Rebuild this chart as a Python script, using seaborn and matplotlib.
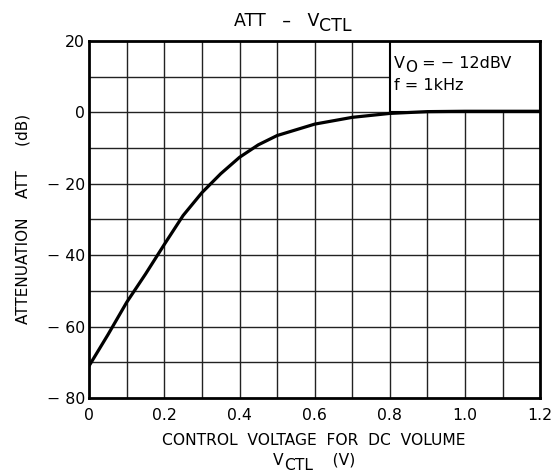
import matplotlib

matplotlib.use("Agg")
import matplotlib.pyplot as plt
import pandas as pd
import seaborn as sns
from matplotlib.patches import Rectangle
from matplotlib.transforms import offset_copy


# values
VCTL = [0.0, 0.05, 0.1, 0.15, 0.2, 0.25, 0.3, 0.35, 0.4, 0.45, 0.5, 0.6, 0.7, 0.8, 0.9, 1.0, 1.1, 1.2]
ATT = [-71.0, -62.3, -53.2, -45.3, -37.0, -28.9, -22.5, -17.2, -12.6, -9.1, -6.5, -3.3, -1.4, -0.3, 0.2, 0.3, 0.3, 0.3]

X_TICKS = [0.0, 0.2, 0.4, 0.6, 0.8, 1.0, 1.2]
X_TICK_LABELS = ["0", "0.2", "0.4", "0.6", "0.8", "1.0", "1.2"]
Y_TICKS = [20, 0, -20, -40, -60, -80]
Y_TICK_LABELS = ["20", "0", "\u2212 20", "\u2212 40", "\u2212 60", "\u2212 80"]

FONT = "DejaVu Sans"


def sub_text(fig, x, y, parts, size, transform, ha="left"):
    """Draw [(text, dy_points, scale), ...] one after another on a line."""
    renderer = fig.canvas.get_renderer()
    pieces = [fig.text(x, y, text, fontsize=size * scale, va="baseline", ha="left",
                       transform=transform)
              for text, dy, scale in parts]
    widths = [p.get_window_extent(renderer).width for p in pieces]
    shift = -sum(widths) / 2 if ha == "center" else 0.0
    for p, w, (text, dy, scale) in zip(pieces, widths, parts):
        p.set_transform(offset_copy(transform, fig=fig, x=shift * 72 / fig.dpi,
                                    y=dy, units="points"))
        shift += w
    return pieces


def main() -> None:
    sns.set_theme(style="white")
    plt.rcParams["font.family"] = [FONT]
    plt.rcParams["text.color"] = "black"
    plt.rcParams["axes.labelcolor"] = "black"

    df = pd.DataFrame({"vctl": VCTL, "att": ATT})

    fig = plt.figure(figsize=(5.57, 4.76), dpi=100)
    ax = fig.add_axes([0.160, 0.164, 0.810, 0.750])

    # grid: every 0.1 V and every 10 dB
    for i in range(1, 12):
        ax.axvline(i * 0.1, color="#222222", lw=1.0, zorder=1)
    for v in range(-70, 20, 10):
        ax.axhline(v, color="#222222", lw=1.0, zorder=1)

    # condition box in the top-right corner hides the grid
    ax.add_patch(Rectangle((0.8, 0), 0.4, 20, facecolor="white",
                           edgecolor="black", lw=1.5, zorder=2))

    sns.lineplot(data=df, x="vctl", y="att", color="black", lw=2.3, ax=ax, zorder=4)

    ax.set_xlim(0, 1.2)
    ax.set_ylim(-80, 20)
    ax.set_xticks(X_TICKS)
    ax.set_xticklabels(X_TICK_LABELS)
    ax.set_yticks(Y_TICKS)
    ax.set_yticklabels(Y_TICK_LABELS)
    ax.tick_params(length=0, labelsize=11.3, colors="black")
    ax.tick_params(axis="x", pad=7)
    ax.tick_params(axis="y", pad=3)

    for spine in ax.spines.values():
        spine.set_color("black")
        spine.set_linewidth(2.0)
        spine.set_zorder(5)

    ax.set_xlabel("")
    ax.set_ylabel("ATTENUATION    ATT     (dB)", fontsize=11, labelpad=12)

    sub_text(fig, 0.81, 12.4, [("V", 0, 1.0), ("O", -3, 0.95), (" = \u2212 12dBV", 0, 1.0)],
             11.5, ax.transData)
    sub_text(fig, 0.81, 6.2, [("f = 1kHz", 0, 1.0)], 11.5, ax.transData)

    sub_text(fig, 0.526, 0.946, [("ATT   \u2013   V", 0, 1.0), ("CTL", -4, 1.0)],
             12.5, fig.transFigure, ha="center")
    fig.text(0.564, 0.066, "CONTROL  VOLTAGE  FOR  DC  VOLUME", fontsize=11.2,
             ha="center", va="baseline")
    sub_text(fig, 0.564, 0.024, [("V", 0, 1.0), ("CTL", -4, 1.0), ("    (V)", 0, 1.0)],
             11.2, fig.transFigure, ha="center")

    fig.savefig("out.png", dpi=100)
    plt.close(fig)


if __name__ == "__main__":
    main()
